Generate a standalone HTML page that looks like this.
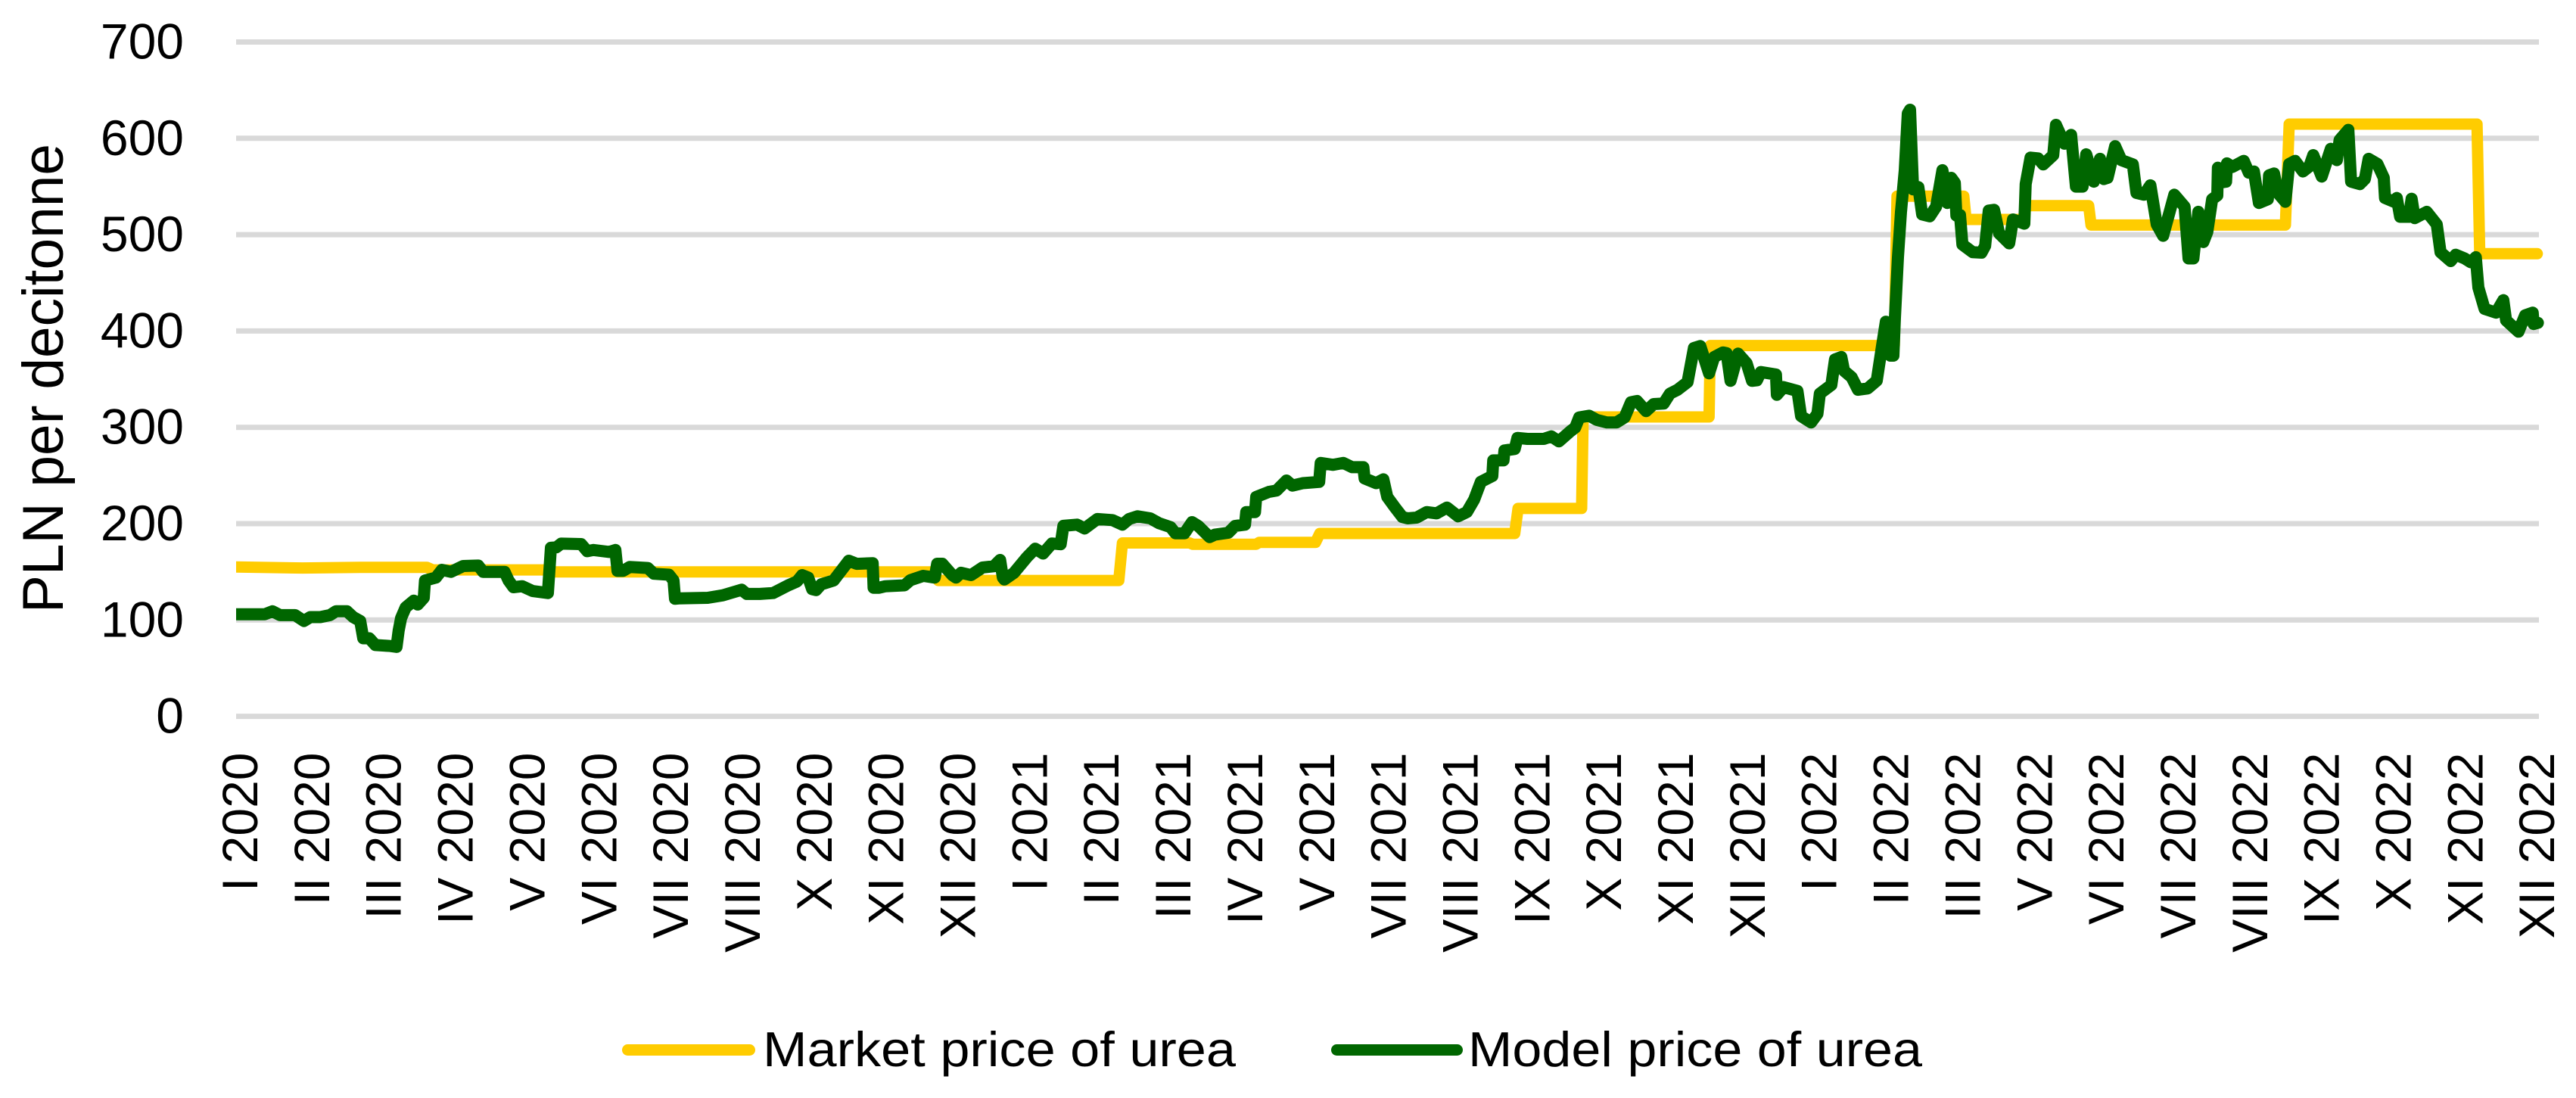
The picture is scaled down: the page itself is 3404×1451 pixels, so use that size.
<!DOCTYPE html>
<html lang="en">
<head>
<meta charset="utf-8">
<title>Market and model price of urea</title>
<style>
html,body{margin:0;padding:0;background:#fff;}
svg{display:block;}
text{font-family:"Liberation Sans",sans-serif;fill:#000;}
</style>
</head>
<body>
<svg id="chart" xmlns="http://www.w3.org/2000/svg" width="3404" height="1451" viewBox="0 0 3404 1451">
  <defs><clipPath id="plot-clip"><rect x="312" y="0" width="3092" height="1451"/></clipPath></defs>
  <rect x="0" y="0" width="3404" height="1451" fill="#ffffff"/>
  <g id="grid"></g>
  <g id="yticks"></g>
  <g id="xticks"></g>
  <text transform="translate(83,500) rotate(-90)" text-anchor="middle" font-size="76" textLength="620" lengthAdjust="spacingAndGlyphs">PLN per decitonne</text>
  <g clip-path="url(#plot-clip)">
    <path id="market-line" fill="none" stroke="#FFCC00" stroke-width="15" stroke-linejoin="round" stroke-linecap="round"/>
    <path id="model-line" fill="none" stroke="#006600" stroke-width="16" stroke-linejoin="round" stroke-linecap="round"/>
  </g>
  <g>
    <line x1="829.5" y1="1387.5" x2="990.5" y2="1387.5" stroke="#FFCC00" stroke-width="15" stroke-linecap="round"/>
    <text x="1008" y="1409" font-size="65" textLength="625" lengthAdjust="spacingAndGlyphs">Market price of urea</text>
    <line x1="1766.5" y1="1387.5" x2="1925.5" y2="1387.5" stroke="#006600" stroke-width="15" stroke-linecap="round"/>
    <text x="1940" y="1409" font-size="65" textLength="600" lengthAdjust="spacingAndGlyphs">Model price of urea</text>
  </g>
</svg>
<script>
const xTickLabels = ["I 2020","II 2020","III 2020","IV 2020","V 2020","VI 2020","VII 2020","VIII 2020","X 2020","XI 2020","XII 2020",
  "I 2021","II 2021","III 2021","IV 2021","V 2021","VII 2021","VIII 2021","IX 2021","X 2021","XI 2021","XII 2021",
  "I 2022","II 2022","III 2022","V 2022","VI 2022","VII 2022","VIII 2022","IX 2022","X 2022","XI 2022","XII 2022"];
const yTicks = [0,100,200,300,400,500,600,700];

const marketDays = [0,22,41,63,65,103,104,230.5,232,291.6,292.8,315,316,337,338,356.6,358,422.4,423.5,444.5,445,486.6,487,547.8,548.7,570.75,571.5,590.75,591.2,612,612.8,677,678.25,740.3,741.2,760.2];
const marketValues = [155,154,154.7,154.7,152,152,150,150,141,141,180,180,178.6,178.6,180.6,180.6,189.8,189.8,215.8,215.8,310.8,310.8,384.9,384.9,540,540,515.8,515.8,530.2,530.2,510,510,614.8,614.8,480.2,480.2];

const modelDays = [
  0,9.5,12,14.5,19.5,22.4,24.5,27.8,31,33,36.6,38.7,41,42,44,46,51,53,53.7,54.5,56,58.7,60,62,62.4,66,68,71,75,80,81.6,88.7,90,91.6,94.5,98,103,104,
  105.8,107.4,114,116,118,123.3,125.3,126,127.8,130,136,138,143,144.5,145,146.6,155.8,160.8,167,168.7,173,177.4,182.4,185.3,187,189,190.3,191.6,193.3,197.4,202.4,205,210.3,210.6,212.4,
  214.5,220.8,222.8,227,230.8,231.6,233.3,236.6,237.8,239.5,242.8,246.6,250.3,252.4,253.3,253.8,257,261.2,264,266.6,269.5,272.4,273.3,277.8,280.3,284.5,289.5,292.8,295,297.8,302,305,308.7,310.3,313.3,315.8,317.8,321.6,
  323.3,327.8,330,333.3,333.7,336.6,337,341.2,343.7,347,349,352.4,357.8,358.3,362.4,365.8,368.7,372.4,372.8,376.6,379,380.3,382.8,385.3,387,390,393.3,396.6,400,403.7,406.6,409,411.2,415,415.3,418.7,419,422.4,423.3,426.6,430.8,
  432,434.5,437,440.8,442.4,443.7,447,449.5,452.8,456,458.7,460.8,462.8,465.8,468.3,471.6,473.7,476.2,479.5,481.6,483.7,486.6,488.3,491.2,492.4,493.7,496.2,499,500.8,502.4,503.7,508.7,509,511.2,515.8,517,520.3,522.4,523.2,527,528.2,530.3,531.2,533.7,535.8,539,
  542,543.75,545,546.5,547.5,548,549,550,551.25,552.25,553,554,
  555.75,557,559.5,561.6,563.7,565.3,566.6,567.8,568.3,569.5,570.3,573.7,576.6,577.8,579,580.75,582.4,585.75,587,590.75,591.2,592.8,595.3,597,600.3,601.2,604,606.2,607.8,610,611.2,613.7,615.75,617,618.25,620.75,622.8,626.6,627.8,630.3,632.4,634.5,636.6,640.3,643.7,645,646.6,648.25,
  649.9,651.2,652.8,654.5,654.7,656.6,657.4,657.7,659.5,663.25,664.9,666.6,668.25,671.2,671.6,673.25,674.5,677,678.25,680.2,682.8,684.9,686.2,689,692,694,694.9,697.8,698.7,701.6,703.25,704.5,707.4,709.5,709.9,713.25,713.8,714.9,717.8,718.7,719.7,723.7,727,728.25,731.6,733.25,736.2,738.25,739.9,740.75,742.8,746.6,749,749.9,754,756.2,758.7,759,760.4
];
const modelValues = [
  106,106,109,105,105,99,103,103,105,109,109,103,99,81,81,74,73,72,89,102,113,120,116,123,141,144,152,150,156,156.5,150,150,141,134,135,130,128,175,
  175.4,179.3,178.8,171.4,172.7,170.6,172.7,151,151,155,154,148,147,141,122,122.5,123,125.6,131.4,127,127,128,136,140,146.6,144,132,131,137,141,161.5,158.3,159,133.5,133.5,
  135,136,141.4,145.8,144,158.4,158.4,146.6,144,149,146.6,154.5,155.8,162.3,144,142,149,165,174,169,179.4,178.6,197.7,199,195,204.8,203.7,199,204.8,207.6,205.5,200.3,196.4,190,190,201.6,197.7,186,
  188.5,190.6,197.6,199,212,212,227.7,233,234.3,244.8,239.5,242,243.4,263,261,263,258.6,258.6,247,242,246,227.7,217,206.8,205.5,206.3,212,210.7,216.7,207.6,212,225,243.4,249.5,265.7,265.7,276,277.5,289,288,288,
  288,290.6,285.4,295.9,299.8,310.3,312,307.7,305,305,310.3,326,327.3,316.8,324.1,324.7,335,339,347,382.3,384.4,356,373,377.8,377,348.2,376.5,366.6,348.2,348.8,357.4,354.8,333.8,341.7,337.8,311.6,305,314,335,344,370.5,373,358.7,352,339,340.4,
  348.5,384.6,409.7,374.4,374.4,413.7,476.5,523.6,566.8,625.8,629.7,547,
  549.3,521,519,529,566.9,532.9,559,553.8,519.8,520.5,489.7,481.8,481.3,488.3,525,525.8,501.4,491,515.8,511.4,552.5,580,579.2,572.9,582.6,614,594.4,603.5,549.9,549.9,583.4,555,578.7,557.7,559,591.8,577.4,572.9,543.3,541.5,551.2,510.6,498.8,541.5,529,475.3,475.3,523.7,
  492.3,502.8,536.8,540.7,569.5,554.6,555,574,570.3,576.6,564.3,565.6,532.9,536.8,561.6,563.5,543.3,534.2,573.4,576.6,565.6,570.8,582.6,560.3,589.1,577.4,598.3,608.8,555.1,552.5,557.7,578.7,573.4,559,538.1,533.6,538,518.5,518.5,537.3,517.1,523.7,510.6,481.8,472.6,479.2,475.3,471.3,476.6,445.1,422.9,419,432,411.1,399.3,416.3,419,407.2,408.5
];

const SVGNS = "http://www.w3.org/2000/svg";
function xDay(d){ return 312 + d * 4; }
function xTick(i){ return 316 + i * 94.85; }
function yVal(v){ return 946.6 - v * 1.273; }
function linePath(days, vals){
  const n = Math.min(days.length, vals.length);
  let s = "";
  for (let i = 0; i < n; i++) {
    s += (i ? "L" : "M") + xDay(days[i]).toFixed(1) + " " + yVal(vals[i]).toFixed(1);
  }
  return s;
}

const gridGroup = document.getElementById("grid");
const yGroup = document.getElementById("yticks");
yTicks.forEach(function(t){
  const ln = document.createElementNS(SVGNS, "line");
  
  
  ln.setAttribute("x1", 312);
  ln.setAttribute("x2", 3355);
  ln.setAttribute("y1", yVal(t));
  ln.setAttribute("y2", yVal(t));
  ln.setAttribute("stroke", "#D9D9D9");
  ln.setAttribute("stroke-width", 7);
  gridGroup.appendChild(ln);
  const tx = document.createElementNS(SVGNS, "text");
  
  
  tx.setAttribute("x", 243);
  tx.setAttribute("y", yVal(t) + 22);
  tx.setAttribute("text-anchor", "end");
  tx.setAttribute("font-size", 66);
  tx.textContent = String(t);
  yGroup.appendChild(tx);
});

const xGroup = document.getElementById("xticks");
xTickLabels.forEach(function(label, i){
  const tx = document.createElementNS(SVGNS, "text");
  
  
  tx.setAttribute("transform", "translate(" + (xTick(i) + 24) + ",994.5) rotate(-90)");
  tx.setAttribute("text-anchor", "end");
  tx.setAttribute("font-size", 66);
  tx.textContent = label;
  xGroup.appendChild(tx);
});

document.getElementById("market-line").setAttribute("d", linePath(marketDays, marketValues));
document.getElementById("model-line").setAttribute("d", linePath(modelDays, modelValues));
</script>
</body>
</html>
